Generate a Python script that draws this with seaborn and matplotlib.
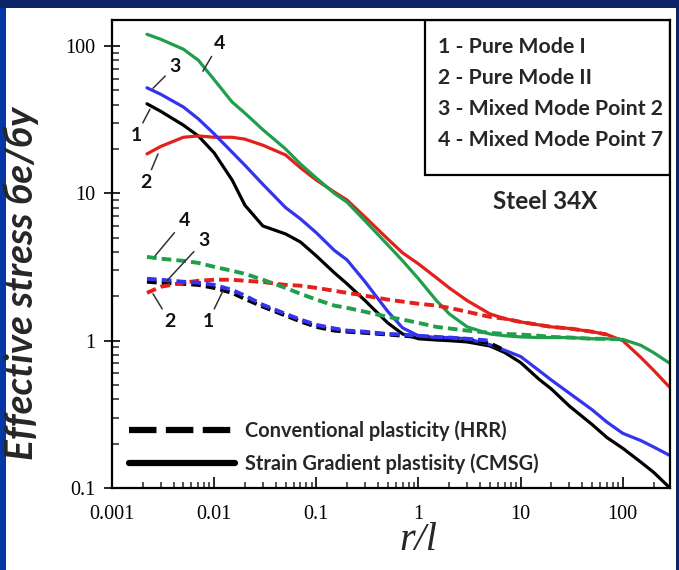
import matplotlib
matplotlib.use("Agg")
import matplotlib.pyplot as plt
import pandas as pd
import seaborn as sns
from matplotlib.lines import Line2D
from matplotlib.patches import Rectangle
from matplotlib.ticker import FixedLocator, FixedFormatter, LogLocator, NullFormatter

# Normalised distance ahead of the crack tip, r/l
r_l = [0.0022, 0.003, 0.005, 0.007, 0.01, 0.015, 0.02, 0.03, 0.05, 0.07,
       0.1, 0.15, 0.2, 0.3, 0.5, 0.7, 1, 1.5, 2, 3, 5, 7, 10, 15, 20, 30,
       50, 70, 100, 150, 200, 290]

# Strain gradient plasticity (CMSG) effective stress, σe/σy
cmsg_mode1 = [40.5, 36, 29, 24.5, 18.8, 12.3, 8.3, 6.0, 5.3, 4.67, 3.76, 2.89,
              2.43, 1.87, 1.32, 1.11, 1.03, 1.01, 1.0, 0.98, 0.92, 0.83, 0.71,
              0.55, 0.47, 0.36, 0.27, 0.22, 0.186, 0.15, 0.128, 0.10]
cmsg_mode2 = [18.5, 20.8, 24, 24.5, 24, 24, 23.3, 21.2, 18.2, 14.9, 12.3, 10.2,
              9.0, 6.9, 4.9, 3.94, 3.32, 2.67, 2.28, 1.87, 1.52, 1.41, 1.34,
              1.28, 1.24, 1.21, 1.15, 1.10, 1.0, 0.77, 0.63, 0.48]
cmsg_mixed2 = [52, 47, 38.5, 32, 25.3, 19, 15.5, 11.5, 8.0, 6.7, 5.4, 4.1,
               3.53, 2.51, 1.58, 1.22, 1.08, 1.05, 1.05, 1.03, 0.94, 0.86, 0.78,
               0.63, 0.54, 0.44, 0.34, 0.28, 0.235, 0.21, 0.19, 0.166]
cmsg_mixed7 = [120, 111, 95, 80, 59, 41.6, 35, 27, 20, 15.8, 12.7, 10.0, 8.7,
               6.5, 4.47, 3.48, 2.63, 1.87, 1.52, 1.24, 1.11, 1.08, 1.06, 1.05,
               1.05, 1.05, 1.03, 1.03, 1.02, 0.93, 0.83, 0.70]

# Conventional plasticity (HRR) effective stress, defined from the first r/l onwards
hrr_mode1 = [2.51, 2.47, 2.43, 2.39, 2.28, 2.11, 1.92, 1.70, 1.48, 1.35, 1.24,
             1.17, 1.15, 1.13, 1.10, 1.08, 1.06, 1.05, 1.03, 1.02, 0.96, 0.86]
hrr_mode2 = [2.11, 2.32, 2.47, 2.55, 2.59, 2.59, 2.55, 2.5, 2.39, 2.36, 2.28,
             2.18, 2.11, 2.02, 1.90, 1.84, 1.78, 1.73, 1.67, 1.57, 1.45, 1.41,
             1.34, 1.28, 1.24, 1.21, 1.15, 1.10]
hrr_mixed2 = [2.63, 2.59, 2.51, 2.47, 2.39, 2.21, 2.02, 1.75, 1.52, 1.39, 1.28,
              1.21, 1.17, 1.15, 1.11, 1.10, 1.08, 1.06, 1.05, 1.03, 1.0]
hrr_mixed7 = [3.7, 3.6, 3.48, 3.37, 3.17, 2.98, 2.84, 2.59, 2.28, 2.08, 1.90,
              1.73, 1.67, 1.57, 1.45, 1.39, 1.32, 1.24, 1.21, 1.17, 1.13, 1.11,
              1.10, 1.08, 1.06, 1.05, 1.03, 1.03, 1.02]

modes = ["1", "2", "3", "4"]
mode_labels = ["1 - Pure Mode I", "2 - Pure Mode II",
               "3 - Mixed Mode Point 2", "4 - Mixed Mode Point 7"]
model_labels = ["Conventional plasticity (HRR)", "Strain Gradient plastisity (CMSG)"]
x_ticks = [0.001, 0.01, 0.1, 1, 10, 100]
x_tick_labels = ["0.001", "0.01", "0.1", "1", "10", "100"]
y_ticks = [0.1, 1, 10, 100]
y_tick_labels = ["0.1", "1", "10", "100"]

palette = {"1": "#000000", "2": "#e3201b", "3": "#3434ee", "4": "#1f9e4c"}


def long_table(series, model):
    rows = []
    for mode, vals in zip(modes, series):
        for r, s in zip(r_l, vals):
            rows.append({"r": r, "stress": s, "mode": mode, "model": model})
    return pd.DataFrame(rows)


cmsg = long_table([cmsg_mode1, cmsg_mode2, cmsg_mixed2, cmsg_mixed7], "CMSG")
hrr = long_table([hrr_mode1, hrr_mode2, hrr_mixed2, hrr_mixed7], "HRR")

sns.set_theme(style="white")
plt.rcParams["font.family"] = ["Lato", "DejaVu Sans"]

W, H = 679, 570
fig = plt.figure(figsize=(W / 100, H / 100), dpi=100)
fig.patch.set_facecolor("#0c2468")
fig.patches.append(Rectangle((0, 0), 6 / W, 562 / H, transform=fig.transFigure,
                             facecolor="#0536a6", edgecolor="none", zorder=-2))
fig.patches.append(Rectangle((6 / W, 0), 670 / W, 562 / H, transform=fig.transFigure,
                             facecolor="white", edgecolor="none", zorder=-1))

ax = fig.add_axes([112 / W, (H - 488) / H, 558 / W, 468 / H])
ax.set_facecolor("white")
ax.set_xscale("log")
ax.set_yscale("log")

sns.lineplot(data=cmsg, x="r", y="stress", hue="mode", hue_order=modes,
             palette=palette, estimator=None, sort=True, lw=2.3,
             legend=False, ax=ax)
sns.lineplot(data=hrr, x="r", y="stress", hue="mode", hue_order=modes,
             palette=palette, estimator=None, sort=True, lw=2.8,
             dashes=False, legend=False, ax=ax)
for line in ax.lines:
    line.set_solid_joinstyle("round")
    line.set_dash_joinstyle("round")
for line in ax.lines[4:]:
    line.set_linestyle((0, (2.5, 1.3)))

ax.set_xlim(0.001, 290)
ax.set_ylim(0.1, 150)

# Curve callouts: label, text position, point on the curve
callouts = [
    ("4", (0.0112, 104), (0.00776, 67.3)),
    ("3", (0.00415, 73), (0.00252, 51.6)),
    ("1", (0.00172, 24.5), (0.00235, 37.2)),
    ("2", (0.00215, 11.8), (0.00282, 18.5)),
    ("4", (0.0051, 6.5), (0.00264, 3.76)),
    ("3", (0.0079, 4.75), (0.00345, 2.55)),
    ("2", (0.0037, 1.34), (0.00252, 2.08)),
    ("1", (0.0087, 1.34), (0.0122, 2.18)),
]
for lab, txt, pt in callouts:
    ax.annotate(lab, xy=pt, xytext=txt, ha="center", va="center",
                fontsize=14, fontweight="bold", color="#111111",
                arrowprops=dict(arrowstyle="-", color="#333333", lw=1.1,
                                shrinkA=1, shrinkB=0))

# Mode key in a framed box at the upper right
ax.add_patch(Rectangle((0.561, 0.669), 0.439, 0.331, transform=ax.transAxes,
                       fill=False, edgecolor="black", lw=1.6, zorder=5))
for i, lab in enumerate(mode_labels):
    ax.text(0.584, 0.942 - i * 0.066, lab, transform=ax.transAxes,
            ha="left", va="center", fontsize=15.3, fontweight="bold", zorder=6)

ax.text(0.776, 0.612, "Steel 34X", transform=ax.transAxes, ha="center",
        va="center", fontsize=17.5, fontweight="bold")

handles = [Line2D([], [], color="black", lw=4.5, linestyle=(0, (4.4, 1.5))),
           Line2D([], [], color="black", lw=4.5)]
ax.legend(handles, model_labels, loc="lower left", bbox_to_anchor=(0.03, 0.03),
          frameon=False, borderpad=0, borderaxespad=0, handlelength=5.3,
          handletextpad=0.5, labelspacing=0.6,
          prop=dict(family=["Lato", "DejaVu Sans"], weight="bold", size=14.4))

# Axes frame and ticks
for sp in ax.spines.values():
    sp.set_visible(True)
    sp.set_color("black")
    sp.set_linewidth(1.6)

ax.xaxis.set_major_locator(FixedLocator(x_ticks))
ax.xaxis.set_major_formatter(FixedFormatter(x_tick_labels))
ax.yaxis.set_major_locator(FixedLocator(y_ticks))
ax.yaxis.set_major_formatter(FixedFormatter(y_tick_labels))
ax.xaxis.set_minor_locator(LogLocator(base=10, subs=range(2, 10), numticks=20))
ax.yaxis.set_minor_locator(LogLocator(base=10, subs=range(2, 10), numticks=20))
ax.xaxis.set_minor_formatter(NullFormatter())
ax.yaxis.set_minor_formatter(NullFormatter())

ax.tick_params(axis="x", which="major", direction="in", length=8, width=1.4,
               pad=12, bottom=True, top=False)
ax.tick_params(axis="x", which="minor", direction="in", length=4, width=1.1,
               bottom=True, top=False)
ax.tick_params(axis="y", which="major", direction="inout", length=12, width=1.4,
               pad=6, left=True, right=False)
ax.tick_params(axis="y", which="minor", direction="in", length=5, width=1.1,
               left=True, right=False)
for lab in ax.get_xticklabels() + ax.get_yticklabels():
    lab.set_fontfamily("Liberation Serif")
    lab.set_fontsize(14.5)
    lab.set_color("black")

ax.set_xlabel("")
ax.set_ylabel("")
fig.text(21 / W, 1 - 283 / H, "Effective stress бe/бy", rotation=90,
         ha="center", va="center", fontsize=28, fontweight="bold",
         fontstyle="italic", family=["Lato", "DejaVu Sans"])
fig.text(418 / W, 1 - 541 / H, "r/l", ha="center", va="center", fontsize=29,
         fontstyle="italic", family="Liberation Serif")

fig.savefig("out.png", dpi=100)
